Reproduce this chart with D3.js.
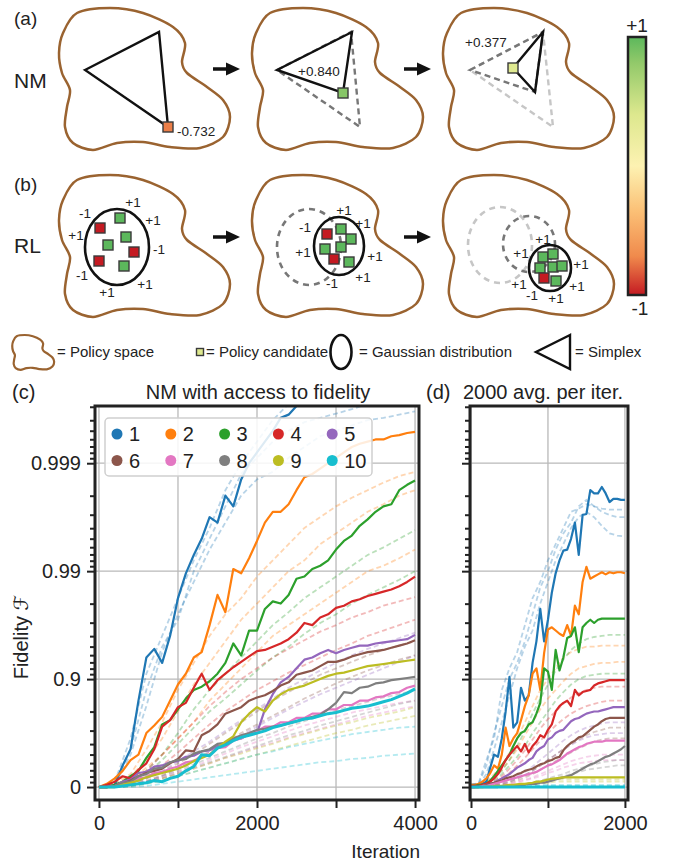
<!DOCTYPE html>
<html>
<head>
<meta charset="utf-8">
<script src="https://cdn.jsdelivr.net/npm/d3@7"></script>
<style>
  body { margin: 0; background: #fff; }
  svg { display: block; font-family: "Liberation Sans", Arial, Helvetica, sans-serif; }
</style>
</head>
<body>
<script>
const width = 675
const height = 865

// ---------- data ----------
const labels = ['1', '2', '3', '4', '5', '6', '7', '8', '9', '10']
const colors = ['#1f77b4', '#ff7f0e', '#2ca02c', '#d62728', '#9467bd',
  '#8c564b', '#e377c2', '#7f7f7f', '#bcbd22', '#17becf']

// iteration grids
const iterC = d3.range(0, 4001, 100)
const iterCRuns = d3.range(0, 4001, 200)
const iterD = d3.range(0, 2001, 50)
const iterDRuns = d3.range(0, 2001, 100)

// all values are "nines": -log10(1 - F)  (0 -> F=0, 1 -> 0.9, 2 -> 0.99, 3 -> 0.999)
const nmBest = [
  [0, 0, 0.02, 0.2, 0.35, 0.8, 1.2, 1.28, 1.15, 1.4, 1.75, 1.98, 2.15, 2.3, 2.5, 2.45, 2.7, 2.6, 2.85, 3.0, 3.1, 3.2, 3.3, 3.42, 3.45, 3.53, 3.56, 3.65],
  [0, 0.03, 0.08, 0.15, 0.25, 0.3, 0.5, 0.57, 0.65, 0.8, 0.95, 1.05, 1.2, 1.25, 1.5, 1.78, 1.62, 2.02, 1.98, 2.12, 2.28, 2.45, 2.55, 2.55, 2.62, 2.75, 2.87, 2.9, 2.95, 3.0, 3.05, 3.1, 3.15, 3.18, 3.2, 3.22, 3.22, 3.25, 3.26, 3.28, 3.29],
  [0, 0, 0.02, 0.05, 0.1, 0.15, 0.27, 0.37, 0.58, 0.62, 0.72, 0.82, 0.9, 0.93, 0.98, 1.05, 1.15, 1.33, 1.22, 1.45, 1.45, 1.65, 1.72, 1.7, 1.78, 1.93, 1.95, 2.02, 2.05, 2.1, 2.2, 2.28, 2.33, 2.42, 2.48, 2.55, 2.6, 2.62, 2.75, 2.8, 2.84],
  [0, 0.02, 0.05, 0.1, 0.08, 0.16, 0.22, 0.35, 0.56, 0.62, 0.74, 0.78, 0.92, 1.05, 0.9, 0.99, 1.05, 1.11, 1.16, 1.21, 1.26, 1.27, 1.3, 1.33, 1.37, 1.43, 1.52, 1.5, 1.57, 1.6, 1.66, 1.68, 1.72, 1.74, 1.77, 1.79, 1.81, 1.83, 1.86, 1.9, 1.95],
  [0, 0, 0.01, 0.05, 0.07, 0.13, 0.14, 0.19, 0.2, 0.23, 0.24, 0.28, 0.29, 0.33, 0.34, 0.38, 0.39, 0.44, 0.45, 0.49, 0.5, 0.72, 0.86, 0.97, 1.02, 1.1, 1.18, 1.2, 1.24, 1.27, 1.24, 1.27, 1.29, 1.31, 1.31, 1.33, 1.34, 1.35, 1.36, 1.37, 1.41],
  [0, 0, 0.01, 0.03, 0.06, 0.1, 0.13, 0.15, 0.17, 0.22, 0.26, 0.34, 0.33, 0.48, 0.52, 0.58, 0.68, 0.71, 0.74, 0.8, 0.83, 0.85, 0.89, 0.94, 0.97, 1.04, 1.06, 1.08, 1.12, 1.16, 1.16, 1.18, 1.21, 1.23, 1.25, 1.26, 1.27, 1.29, 1.31, 1.33, 1.36],
  [0, 0, 0.01, 0.03, 0.04, 0.08, 0.09, 0.13, 0.14, 0.17, 0.19, 0.23, 0.24, 0.29, 0.3, 0.36, 0.37, 0.43, 0.45, 0.5, 0.52, 0.56, 0.56, 0.6, 0.6, 0.64, 0.64, 0.68, 0.68, 0.72, 0.72, 0.76, 0.76, 0.8, 0.8, 0.83, 0.84, 0.87, 0.88, 0.92, 0.94],
  [0, 0, 0.01, 0.04, 0.05, 0.1, 0.12, 0.17, 0.18, 0.23, 0.25, 0.26, 0.31, 0.33, 0.35, 0.4, 0.41, 0.45, 0.48, 0.5, 0.53, 0.54, 0.56, 0.57, 0.59, 0.61, 0.63, 0.65, 0.67, 0.72, 0.78, 0.88, 0.87, 0.92, 0.93, 0.96, 0.97, 0.99, 1.0, 1.01, 1.02],
  [0, 0, 0, 0.02, 0.04, 0.06, 0.09, 0.11, 0.13, 0.15, 0.17, 0.2, 0.24, 0.27, 0.3, 0.36, 0.42, 0.47, 0.6, 0.68, 0.74, 0.7, 0.8, 0.86, 0.9, 0.92, 0.94, 0.97, 1.0, 1.03, 1.05, 1.06, 1.08, 1.1, 1.12, 1.13, 1.14, 1.15, 1.16, 1.17, 1.18],
  [0, 0, 0, 0.01, 0.02, 0.03, 0.04, 0.06, 0.05, 0.08, 0.1, 0.15, 0.19, 0.3, 0.29, 0.36, 0.39, 0.43, 0.46, 0.48, 0.5, 0.52, 0.55, 0.57, 0.59, 0.61, 0.63, 0.64, 0.66, 0.68, 0.69, 0.71, 0.73, 0.74, 0.75, 0.77, 0.79, 0.81, 0.84, 0.87, 0.91],
]

const nmRuns = [
  [[0, 0.05, 0.45, 1.05, 1.4, 1.75, 2.1, 2.4, 2.75, 3.0, 3.2, 3.4, 3.55, 3.65, 3.75, 3.8, 3.85, 3.9, 3.9, 3.95, 4.0],
   [0, 0.02, 0.3, 0.75, 1.25, 1.6, 1.9, 2.2, 2.45, 2.7, 2.85, 2.92, 3.05, 3.15, 3.25, 3.3, 3.35, 3.4, 3.42, 3.45, 3.48],
   [0, 0.03, 0.35, 0.9, 1.3, 1.55, 2.0, 2.3, 2.6, 2.9, 3.05, 3.2, 3.3, 3.38, 3.42, 3.46, 3.5, 3.55, 3.6, 3.65, 3.7]],
  [[0, 0.02, 0.1, 0.25, 0.45, 0.7, 0.95, 1.15, 1.35, 1.55, 1.7, 1.85, 2.0, 2.1, 2.25, 2.35, 2.45, 2.55, 2.62, 2.7, 2.75],
   [0, 0.01, 0.06, 0.18, 0.3, 0.45, 0.6, 0.8, 0.95, 1.1, 1.25, 1.4, 1.5, 1.6, 1.7, 1.8, 1.9, 2.0, 2.05, 2.12, 2.2],
   [0, 0.03, 0.12, 0.35, 0.6, 0.9, 1.15, 1.4, 1.6, 1.75, 1.95, 2.1, 2.25, 2.4, 2.5, 2.6, 2.68, 2.75, 2.82, 2.88, 2.92]],
  [[0, 0.01, 0.05, 0.15, 0.3, 0.5, 0.72, 0.9, 1.05, 1.2, 1.35, 1.5, 1.62, 1.75, 1.85, 1.95, 2.05, 2.15, 2.22, 2.3, 2.38],
   [0, 0.01, 0.04, 0.12, 0.25, 0.4, 0.55, 0.7, 0.82, 0.95, 1.08, 1.2, 1.3, 1.42, 1.52, 1.6, 1.7, 1.78, 1.85, 1.92, 2.0]],
  [[0, 0.01, 0.05, 0.15, 0.3, 0.45, 0.6, 0.75, 0.88, 1.0, 1.1, 1.2, 1.28, 1.36, 1.44, 1.5, 1.57, 1.62, 1.68, 1.72, 1.76],
   [0, 0.01, 0.04, 0.1, 0.2, 0.32, 0.45, 0.58, 0.7, 0.8, 0.9, 0.98, 1.06, 1.13, 1.2, 1.27, 1.33, 1.4, 1.45, 1.5, 1.55]],
  [[0, 0.01, 0.03, 0.08, 0.15, 0.24, 0.33, 0.42, 0.52, 0.62, 0.72, 0.82, 0.92, 1.0, 1.08, 1.15, 1.22, 1.28, 1.33, 1.38, 1.43],
   [0, 0, 0.02, 0.05, 0.1, 0.17, 0.24, 0.32, 0.4, 0.48, 0.56, 0.64, 0.72, 0.79, 0.86, 0.92, 0.98, 1.04, 1.1, 1.16, 1.22]],
  [[0, 0.01, 0.03, 0.08, 0.14, 0.22, 0.3, 0.4, 0.5, 0.6, 0.7, 0.8, 0.88, 0.96, 1.04, 1.1, 1.16, 1.22, 1.27, 1.31, 1.35],
   [0, 0, 0.02, 0.06, 0.11, 0.18, 0.25, 0.33, 0.41, 0.5, 0.58, 0.66, 0.74, 0.82, 0.89, 0.96, 1.02, 1.08, 1.13, 1.18, 1.22]],
  [[0, 0, 0.02, 0.05, 0.09, 0.14, 0.19, 0.25, 0.31, 0.37, 0.42, 0.47, 0.52, 0.57, 0.61, 0.65, 0.69, 0.72, 0.75, 0.78, 0.8],
   [0, 0, 0.01, 0.04, 0.08, 0.12, 0.17, 0.22, 0.27, 0.32, 0.37, 0.41, 0.46, 0.5, 0.54, 0.58, 0.62, 0.66, 0.69, 0.72, 0.75]],
  [[0, 0, 0.02, 0.05, 0.1, 0.15, 0.21, 0.27, 0.33, 0.39, 0.45, 0.5, 0.56, 0.61, 0.66, 0.71, 0.75, 0.79, 0.83, 0.86, 0.9],
   [0, 0, 0.01, 0.04, 0.08, 0.13, 0.18, 0.23, 0.28, 0.33, 0.38, 0.43, 0.48, 0.52, 0.57, 0.61, 0.65, 0.69, 0.73, 0.77, 0.8]],
  [[0, 0, 0.01, 0.04, 0.08, 0.12, 0.17, 0.22, 0.27, 0.31, 0.36, 0.4, 0.45, 0.49, 0.53, 0.57, 0.6, 0.64, 0.67, 0.7, 0.74],
   [0, 0, 0.01, 0.03, 0.06, 0.1, 0.14, 0.18, 0.22, 0.26, 0.3, 0.34, 0.38, 0.42, 0.46, 0.5, 0.53, 0.57, 0.6, 0.63, 0.66]],
  [[0, 0, 0.01, 0.03, 0.06, 0.1, 0.14, 0.18, 0.22, 0.26, 0.3, 0.33, 0.37, 0.4, 0.43, 0.46, 0.49, 0.51, 0.53, 0.55, 0.56],
   [0, 0, 0, 0.01, 0.03, 0.05, 0.07, 0.09, 0.11, 0.13, 0.15, 0.17, 0.19, 0.21, 0.23, 0.24, 0.26, 0.27, 0.29, 0.3, 0.31]],
]

const avgBest = [
  [0.02, 0.02, 0.02, 0.03, 0.05, 0.18, 0.3, 0.28, 0.45, 0.7, 1.02, 0.55, 0.6, 0.92, 0.8, 0.85, 1.15, 1.35, 1.65, 1.35, 1.55, 1.8, 1.98, 2.1, 2.19, 2.2, 2.3, 2.45, 2.15, 2.52, 2.53, 2.75, 2.72, 2.72, 2.78, 2.72, 2.64, 2.67, 2.67, 2.66, 2.66],
  [0.02, 0.02, 0.03, 0.05, 0.08, 0.13, 0.2, 0.17, 0.3, 0.55, 0.38, 0.45, 0.5, 0.62, 0.75, 0.85, 1.05, 1.1, 0.9, 1.24, 1.46, 1.48, 1.45, 1.42, 1.4, 1.5, 1.4, 1.68, 1.6, 1.9, 2.04, 1.93, 1.95, 1.97, 1.99, 1.97, 1.99, 1.98, 1.99, 1.99, 1.98],
  [0.01, 0.01, 0.02, 0.02, 0.03, 0.06, 0.1, 0.15, 0.2, 0.25, 0.3, 0.38, 0.45, 0.5, 0.52, 0.58, 0.6, 0.68, 0.78, 1.1, 1.07, 0.9, 1.27, 1.08, 1.2, 1.38, 1.4, 1.48, 1.25, 1.48, 1.52, 1.55, 1.52, 1.55, 1.56, 1.56, 1.56, 1.56, 1.56, 1.56, 1.56],
  [0.01, 0.01, 0.01, 0.02, 0.03, 0.05, 0.08, 0.12, 0.18, 0.25, 0.3, 0.34, 0.38, 0.33, 0.4, 0.32, 0.38, 0.42, 0.48, 0.46, 0.53, 0.58, 0.7, 0.75, 0.78, 0.8, 0.75, 0.9, 0.85, 0.88, 0.89, 0.9, 0.94, 0.96, 0.97, 0.98, 0.99, 0.99, 0.99, 0.99, 0.99],
  [0, 0, 0, 0.01, 0.02, 0.03, 0.04, 0.06, 0.08, 0.1, 0.12, 0.15, 0.18, 0.2, 0.22, 0.25, 0.27, 0.33, 0.36, 0.38, 0.44, 0.46, 0.5, 0.52, 0.53, 0.57, 0.61, 0.63, 0.64, 0.66, 0.68, 0.69, 0.7, 0.7, 0.71, 0.72, 0.73, 0.74, 0.74, 0.74, 0.74],
  [0, 0, 0.01, 0.01, 0.02, 0.03, 0.04, 0.05, 0.06, 0.08, 0.09, 0.1, 0.12, 0.13, 0.15, 0.16, 0.17, 0.19, 0.21, 0.22, 0.24, 0.25, 0.27, 0.28, 0.34, 0.38, 0.41, 0.43, 0.46, 0.47, 0.5, 0.53, 0.56, 0.58, 0.61, 0.63, 0.64, 0.64, 0.64, 0.64, 0.64],
  [0, 0, 0, 0.01, 0.01, 0.02, 0.03, 0.04, 0.05, 0.06, 0.07, 0.08, 0.09, 0.1, 0.11, 0.12, 0.13, 0.14, 0.16, 0.18, 0.2, 0.21, 0.23, 0.25, 0.28, 0.31, 0.33, 0.35, 0.37, 0.38, 0.4, 0.41, 0.42, 0.42, 0.42, 0.43, 0.43, 0.43, 0.43, 0.43, 0.43],
  [0, 0, 0, 0, 0, 0, 0, 0, 0.01, 0.01, 0.01, 0.01, 0.02, 0.02, 0.02, 0.03, 0.03, 0.03, 0.04, 0.04, 0.05, 0.06, 0.07, 0.08, 0.09, 0.1, 0.11, 0.13, 0.15, 0.17, 0.19, 0.21, 0.22, 0.24, 0.26, 0.28, 0.29, 0.31, 0.33, 0.35, 0.38],
  [0, 0, 0, 0, 0.005, 0.005, 0.01, 0.01, 0.01, 0.015, 0.02, 0.02, 0.025, 0.03, 0.03, 0.035, 0.04, 0.05, 0.05, 0.06, 0.07, 0.075, 0.08, 0.085, 0.09, 0.09, 0.09, 0.09, 0.09, 0.09, 0.09, 0.09, 0.09, 0.09, 0.09, 0.09, 0.09, 0.09, 0.09, 0.09, 0.09],
  [0, 0, 0, 0, 0, 0, 0, 0, 0, 0, 0, 0, 0, 0, 0, 0, 0, 0, 0, 0, 0, 0, 0, 0, 0, 0, 0, 0, 0, 0, 0, 0, 0, 0, 0, 0, 0, 0, 0, 0, 0],
]

const avgRuns = [
  [[0.02, 0.03, 0.2, 0.5, 0.75, 1.0, 1.15, 1.35, 1.6, 1.85, 2.0, 2.2, 2.35, 2.45, 2.6, 2.66, 2.6, 2.55, 2.52, 2.5, 2.5],
   [0.02, 0.02, 0.12, 0.35, 0.6, 0.85, 1.1, 1.3, 1.45, 1.7, 1.9, 2.1, 2.25, 2.4, 2.5, 2.55, 2.5, 2.42, 2.35, 2.33, 2.32],
   [0.02, 0.04, 0.25, 0.45, 0.9, 1.1, 1.25, 1.5, 1.75, 1.9, 2.1, 2.25, 2.4, 2.55, 2.58, 2.62, 2.6, 2.58, 2.57, 2.57, 2.57]],
  [[0.01, 0.02, 0.05, 0.12, 0.2, 0.32, 0.45, 0.6, 0.75, 0.9, 1.0, 1.1, 1.2, 1.25, 1.28, 1.3, 1.3, 1.31, 1.31, 1.31, 1.31],
   [0.01, 0.01, 0.04, 0.1, 0.16, 0.25, 0.35, 0.48, 0.6, 0.72, 0.82, 0.9, 0.98, 1.05, 1.1, 1.12, 1.14, 1.15, 1.15, 1.16, 1.16]],
  [[0.01, 0.01, 0.03, 0.08, 0.15, 0.25, 0.38, 0.52, 0.68, 0.82, 0.95, 1.08, 1.18, 1.27, 1.33, 1.37, 1.39, 1.4, 1.41, 1.41, 1.41],
   [0.01, 0.01, 0.02, 0.06, 0.12, 0.2, 0.28, 0.38, 0.5, 0.6, 0.7, 0.8, 0.88, 0.95, 1.0, 1.03, 1.04, 1.05, 1.05, 1.05, 1.05]],
  [[0.01, 0.01, 0.02, 0.05, 0.1, 0.17, 0.25, 0.34, 0.44, 0.54, 0.63, 0.7, 0.77, 0.83, 0.87, 0.9, 0.92, 0.93, 0.93, 0.93, 0.93],
   [0, 0.01, 0.02, 0.04, 0.08, 0.13, 0.2, 0.27, 0.35, 0.43, 0.5, 0.57, 0.63, 0.68, 0.72, 0.75, 0.77, 0.79, 0.8, 0.8, 0.8]],
  [[0, 0, 0.01, 0.02, 0.04, 0.07, 0.1, 0.14, 0.19, 0.25, 0.31, 0.37, 0.43, 0.48, 0.52, 0.55, 0.57, 0.59, 0.6, 0.6, 0.6],
   [0, 0, 0.01, 0.02, 0.03, 0.05, 0.08, 0.11, 0.15, 0.2, 0.25, 0.3, 0.35, 0.39, 0.43, 0.46, 0.48, 0.49, 0.5, 0.5, 0.5]],
  [[0, 0, 0.01, 0.02, 0.03, 0.05, 0.08, 0.11, 0.15, 0.2, 0.25, 0.3, 0.35, 0.4, 0.44, 0.48, 0.51, 0.53, 0.55, 0.55, 0.55],
   [0, 0, 0, 0.01, 0.02, 0.04, 0.06, 0.09, 0.12, 0.16, 0.2, 0.24, 0.28, 0.32, 0.36, 0.39, 0.42, 0.44, 0.45, 0.45, 0.45]],
  [[0, 0, 0, 0.01, 0.02, 0.03, 0.05, 0.07, 0.09, 0.12, 0.15, 0.18, 0.21, 0.24, 0.26, 0.28, 0.29, 0.3, 0.3, 0.3, 0.3],
   [0, 0, 0, 0.01, 0.01, 0.02, 0.04, 0.06, 0.08, 0.1, 0.13, 0.15, 0.18, 0.2, 0.22, 0.23, 0.24, 0.25, 0.25, 0.25, 0.25]],
  [[0, 0, 0, 0, 0.01, 0.01, 0.02, 0.03, 0.04, 0.06, 0.08, 0.1, 0.12, 0.15, 0.17, 0.19, 0.21, 0.23, 0.24, 0.25, 0.25],
   [0, 0, 0, 0, 0, 0.01, 0.01, 0.02, 0.03, 0.04, 0.06, 0.08, 0.1, 0.12, 0.14, 0.16, 0.17, 0.18, 0.19, 0.2, 0.2]],
  [[0, 0, 0, 0.01, 0.01, 0.02, 0.02, 0.03, 0.04, 0.05, 0.06, 0.07, 0.07, 0.07, 0.07, 0.07, 0.07, 0.07, 0.07, 0.07, 0.07],
   [0, 0, 0, 0, 0.01, 0.01, 0.02, 0.02, 0.03, 0.04, 0.04, 0.05, 0.05, 0.05, 0.05, 0.05, 0.05, 0.05, 0.05, 0.05, 0.05]],
  [[0, 0, 0, 0, 0, 0, 0.01, 0.01, 0.01, 0.02, 0.02, 0.02, 0.02, 0.02, 0.02, 0.02, 0.02, 0.02, 0.02, 0.02, 0.02],
   [0, 0, 0, 0, 0, 0, 0, 0, 0.01, 0.01, 0.01, 0.01, 0.01, 0.01, 0.01, 0.01, 0.01, 0.01, 0.01, 0.01, 0.01]],
]

const yTickFidelity = [0, 0.9, 0.99, 0.999]

// ---------- svg ----------
const svg = d3.select('body').append('svg')
  .attr('width', width)
  .attr('height', height)
  .attr('viewBox', [0, 0, width, height])

const ink = '#222'

// ---------- (a)/(b) schematic ----------
const blobPts = [[5, 25], [19, 5], [52, 0], [85, 5], [115, 19], [127, 35], [124, 54], [129, 65],
  [149, 79], [165, 92], [172, 109], [165, 129], [142, 140], [112, 139], [85, 134], [59, 135],
  [35, 142], [15, 135], [7, 119], [9, 99], [12, 82], [4, 65], [1, 45]]
const blobLine = d3.line().curve(d3.curveCardinalClosed.tension(0.1))

const candColor = d3.scaleLinear()
  .domain([-1, -0.7, -0.35, 0, 0.4, 0.8, 1])
  .range(['#c41a22', '#f08a4c', '#fbc076', '#fdf2b2', '#dde88e', '#92c96a', '#5cb85c'])

const diag = svg.append('g')

function blob(x0, y0, s = 1, sw = 2.5) {
  diag.append('path')
    .attr('d', blobLine(blobPts.map(p => [x0 + p[0] * s, y0 + p[1] * s])))
    .attr('fill', 'none')
    .attr('stroke', '#9a6330')
    .attr('stroke-width', sw)
}

function arrow(x, y) {
  diag.append('line')
    .attr('x1', x).attr('x2', x + 16).attr('y1', y).attr('y2', y)
    .attr('stroke', '#111').attr('stroke-width', 3.5)
  diag.append('path')
    .attr('d', `M${x + 13},${y - 6.5}L${x + 27},${y}L${x + 13},${y + 6.5}Z`)
    .attr('fill', '#111')
}

function tri(pts, stroke, dash) {
  diag.append('path')
    .attr('d', d3.line()(pts) + 'Z')
    .attr('fill', 'none')
    .attr('stroke', stroke)
    .attr('stroke-width', 2.4)
    .attr('stroke-linejoin', 'miter')
    .attr('stroke-dasharray', dash || null)
}

function ell(cx, cy, rx, ry, stroke, dash) {
  diag.append('ellipse')
    .attr('cx', cx).attr('cy', cy).attr('rx', rx).attr('ry', ry)
    .attr('fill', 'none')
    .attr('stroke', stroke)
    .attr('stroke-width', 2.6)
    .attr('stroke-dasharray', dash || null)
}

function sq(x, y, c, s = 10) {
  diag.append('rect')
    .attr('x', x - s / 2).attr('y', y - s / 2)
    .attr('width', s).attr('height', s)
    .attr('fill', c)
    .attr('stroke', '#3a3a3a')
    .attr('stroke-width', 1.4)
}

function txt(x, y, s, size = 13.5, anchor = 'middle') {
  diag.append('text')
    .attr('x', x).attr('y', y)
    .attr('dy', '0.35em')
    .attr('text-anchor', anchor)
    .attr('font-size', size)
    .attr('fill', ink)
    .text(s)
}

// row labels
txt(14, 18, '(a)', 19, 'start')
txt(14, 81, 'NM', 21, 'start')
txt(14, 184, '(b)', 19, 'start')
txt(14, 246, 'RL', 21, 'start')

// row (a): Nelder-Mead simplex steps
;[58, 251, 442].forEach(x0 => blob(x0, 8))
;[58, 251, 442].forEach(x0 => blob(x0, 175))
arrow(213, 69); arrow(404, 69)
arrow(213, 237); arrow(404, 237)

tri([[85, 70], [159, 32], [168, 127]], '#111')
sq(168, 127, candColor(-0.732))
txt(177, 131, '-0.732', 13.5, 'start')

tri([[277, 70], [351, 32], [360, 127]], '#777', '6,4')
tri([[277, 70], [352, 32], [343, 93]], '#111')
sq(343, 93, candColor(0.84))
txt(298, 71, '+0.840', 13.5, 'start')

tri([[470, 70], [543, 32], [553, 127]], '#c6c6c6', '6,4')
tri([[470, 70], [543, 32], [535, 92]], '#777', '6,4')
tri([[543, 32], [535, 92], [513, 68]], '#111')
sq(513, 68, candColor(0.377))
txt(465, 42, '+0.377', 13.5, 'start')

// row (b): Gaussian policy updates
const green = candColor(1)
const red = candColor(-1)
ell(117, 247, 32, 38, '#111')
;[[100, 228, red], [120, 218, green], [126, 237, green], [108, 245, green],
  [134, 252, red], [99, 261, red], [124, 266, green]].forEach(d => sq(d[0], d[1], d[2]))
;[[85, 213, '-1'], [133, 202, '+1'], [153, 220, '+1'], [76, 235, '+1'], [159, 249, '-1'],
  [82, 275, '-1'], [145, 284, '+1'], [107, 292, '+1']].forEach(d => txt(d[0], d[1], d[2]))

ell(309, 247, 32, 38, '#777', '6,5')
ell(339, 246, 25, 29, '#111')
;[[327, 234, red], [341, 229, green], [351, 239, green], [325, 249, green],
  [341, 247, green], [334, 259, red], [349, 262, green]].forEach(d => sq(d[0], d[1], d[2]))
;[[305, 227, '-1'], [303, 252, '+1'], [332, 283, '-1'], [344, 210, '+1'], [363, 223, '+1'],
  [375, 256, '+1'], [363, 277, '+1']].forEach(d => txt(d[0], d[1], d[2]))

ell(500, 245, 32, 38, '#c6c6c6', '6,5')
ell(529, 244, 26, 28, '#777', '6,5')
ell(550, 268, 21, 23, '#111')
;[[543, 257, green], [553, 254, green], [540, 268, green], [553, 267, green],
  [562, 266, green], [544, 278, red], [556, 281, green]].forEach(d => sq(d[0], d[1], d[2]))
;[[543, 239, '+1'], [521, 253, '+1'], [581, 264, '+1'], [519, 284, '+1'], [577, 286, '+1'],
  [532, 295, '-1'], [556, 298, '+1']].forEach(d => txt(d[0], d[1], d[2]))

// colour bar
const defs = svg.append('defs')
const grad = defs.append('linearGradient')
  .attr('id', 'cbar').attr('x1', 0).attr('x2', 0).attr('y1', 1).attr('y2', 0)
candColor.domain().forEach(v => {
  grad.append('stop').attr('offset', (v + 1) / 2).attr('stop-color', candColor(v))
})
diag.append('rect')
  .attr('x', 628).attr('y', 37).attr('width', 18).attr('height', 258)
  .attr('fill', 'url(#cbar)').attr('stroke', ink).attr('stroke-width', 2.5)
txt(637, 25, '+1', 19)
txt(640, 308, '-1', 19)

// legend row
blob(12, 335, 0.245, 2.2)
txt(57, 352, '= Policy space', 15, 'start')
sq(200, 352, candColor(0.4), 7)
txt(206, 352, '= Policy candidate', 15, 'start')
ell(341, 352, 10.5, 17, '#111')
txt(359, 352, '= Gaussian distribution', 15, 'start')
tri([[570, 335], [536, 352], [570, 369]], '#111')
txt(575, 352, '= Simplex', 15, 'start')

// ---------- (c) and (d) line charts ----------
const y = d3.scaleLog()
  .domain([Math.pow(10, 0.12), Math.pow(10, -3.53)])
  .range([800, 406])
const yMajor = yTickFidelity.map(f => 1 - f)
const yMinor = y.ticks().filter(v => Math.abs(Math.log10(v) - Math.round(Math.log10(v))) > 1e-6)
const yPos = n => y(Math.pow(10, -n))

function drawPanel(opt) {
  const { id, left, right, xDomain, xTicks, xLabels, best, runs, iterBest, iterRuns, yLabels } = opt
  const top = 406
  const bottom = 800
  const x = d3.scaleLinear().domain(xDomain).range([left, right])
  const g = svg.append('g')

  defs.append('clipPath').attr('id', id)
    .append('rect').attr('x', left).attr('y', top).attr('width', right - left).attr('height', bottom - top)

  // grid
  g.append('g').selectAll('line').data(xTicks).join('line')
    .attr('x1', d => x(d)).attr('x2', d => x(d)).attr('y1', top).attr('y2', bottom)
    .attr('stroke', '#b9b9b9').attr('stroke-width', 1.3)
  g.append('g').selectAll('line').data(yMajor).join('line')
    .attr('x1', left).attr('x2', right).attr('y1', d => y(d)).attr('y2', d => y(d))
    .attr('stroke', '#b9b9b9').attr('stroke-width', 1.3)

  const plot = g.append('g').attr('clip-path', `url(#${id})`)

  // faint dashed runs
  runs.forEach((set, k) => {
    set.forEach(vals => {
      plot.append('path')
        .datum(vals)
        .attr('d', d3.line().x((d, i) => x(iterRuns[i])).y(d => yPos(d)))
        .attr('fill', 'none')
        .attr('stroke', colors[k])
        .attr('stroke-opacity', 0.32)
        .attr('stroke-width', 1.8)
        .attr('stroke-dasharray', '5,3')
    })
  })

  // best runs
  best.forEach((vals, k) => {
    plot.append('path')
      .datum(vals)
      .attr('d', d3.line().x((d, i) => x(iterBest[i])).y(d => yPos(d)))
      .attr('fill', 'none')
      .attr('stroke', colors[k])
      .attr('stroke-width', k === 9 ? 3 : 2.2)
      .attr('stroke-linejoin', 'round')
  })

  // axes
  const yAxisMinor = d3.axisLeft(y).tickValues(yMinor).tickSize(4).tickFormat('')
  const yAxisMajor = d3.axisLeft(y).tickValues(yMajor).tickSize(7).tickPadding(6)
    .tickFormat((d, i) => yLabels ? String(yTickFidelity[i]) : '')
  const xAxis = d3.axisBottom(x).tickValues(xTicks).tickSize(7).tickPadding(8)
    .tickFormat(d => xLabels.includes(d) ? String(d) : '')

  const styleAxis = a => {
    a.select('.domain').remove()
    a.selectAll('.tick line').attr('stroke', ink).attr('stroke-width', 2)
    a.selectAll('.tick text').attr('fill', ink).attr('font-size', 20)
      .attr('font-family', '"Liberation Sans", Arial, Helvetica, sans-serif')
  }
  g.append('g').attr('transform', `translate(${left - 1},0)`).call(yAxisMinor).call(styleAxis)
  g.append('g').attr('transform', `translate(${left - 1},0)`).call(yAxisMajor).call(styleAxis)
  g.append('g').attr('transform', `translate(0,${bottom + 1})`).call(xAxis).call(styleAxis)

  // frame
  g.append('rect')
    .attr('x', left).attr('y', top).attr('width', right - left).attr('height', bottom - top)
    .attr('fill', 'none').attr('stroke', ink).attr('stroke-width', 3)
  return { g, x }
}

const pc = drawPanel({
  id: 'clipC', left: 95, right: 419, xDomain: [-50, 4050],
  xTicks: [0, 1000, 2000, 3000, 4000], xLabels: [0, 2000, 4000],
  best: nmBest, runs: nmRuns, iterBest: iterC, iterRuns: iterCRuns, yLabels: true,
})
drawPanel({
  id: 'clipD', left: 470, right: 628, xDomain: [-13, 2040],
  xTicks: [0, 1000, 2000], xLabels: [0, 2000],
  best: avgBest, runs: avgRuns, iterBest: iterD, iterRuns: iterDRuns, yLabels: false,
})

// titles and labels
const label = (x, yy, s, anchor = 'start', size = 20) =>
  svg.append('text').attr('x', x).attr('y', yy).attr('text-anchor', anchor)
    .attr('font-size', size).attr('fill', ink).text(s)

label(12, 399, '(c)')
label(258, 399, 'NM with access to fidelity', 'middle')
label(426, 399, '(d)')
label(463, 399, '2000 avg. per iter.')
label(420, 858, 'Iteration', 'end', 19)

svg.append('text')
  .attr('transform', 'translate(28,637) rotate(-90)')
  .attr('text-anchor', 'middle')
  .attr('font-size', 20)
  .attr('fill', ink)
  .call(t => t.append('tspan').text('Fidelity '))
  .call(t => t.append('tspan').attr('font-style', 'italic').attr('font-family', '"DejaVu Sans", serif').text('ℱ'))

// legend of (c)
const leg = pc.g.append('g')
leg.append('rect')
  .attr('x', 105).attr('y', 418).attr('width', 267).attr('height', 58).attr('rx', 4)
  .attr('fill', '#fff').attr('fill-opacity', 0.85)
  .attr('stroke', '#cfcfcf').attr('stroke-width', 1.5)
labels.forEach((lab, i) => {
  const cx = 117 + (i % 5) * 53.8
  const cy = 434 + Math.floor(i / 5) * 26.5
  leg.append('circle').attr('cx', cx).attr('cy', cy).attr('r', 5.5).attr('fill', colors[i])
  leg.append('text').attr('x', cx + 12).attr('y', cy + 7)
    .attr('font-size', 20).attr('fill', ink).text(lab)
})
</script>
</body>
</html>
